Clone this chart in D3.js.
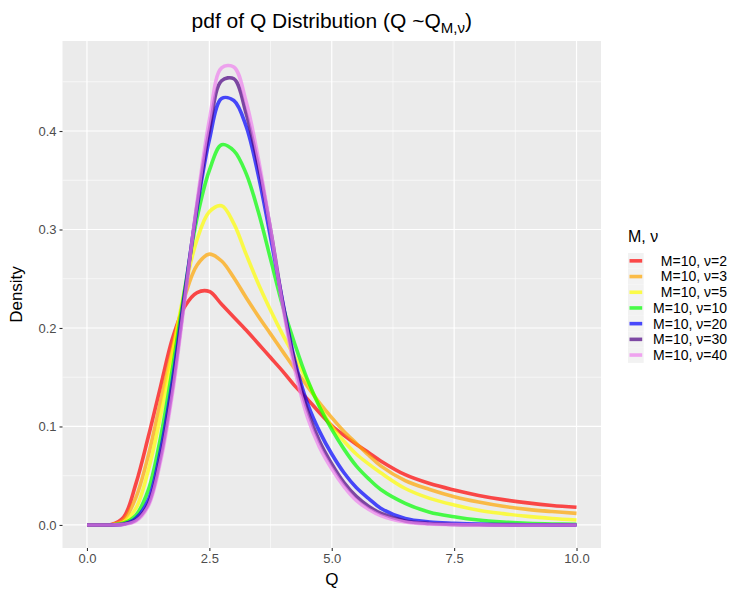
<!DOCTYPE html>
<html>
<head>
<meta charset="utf-8">
<script src="https://cdn.jsdelivr.net/npm/d3@7"></script>
<style>
  body { margin: 0; background: #fff; }
  text { font-family: "Liberation Sans", Arial, sans-serif; }
</style>
</head>
<body>
<div class="chart"></div>
<script>
var svgWidth = 730;
var svgHeight = 589;

// panel box (pixels)
var margin = { top: 41, right: 129, bottom: 41, left: 62.5 };
var width = svgWidth - margin.left - margin.right;
var height = svgHeight - margin.top - margin.bottom;

// data
var qValues = [0, 0.25, 0.5, 0.75, 1, 1.25, 1.5, 1.75, 2, 2.25, 2.5, 2.75, 3, 3.25, 3.5, 3.75,
  4, 4.25, 4.5, 4.75, 5, 5.25, 5.5, 5.75, 6, 6.5, 7, 7.5, 8, 8.5, 9, 9.5, 10];

var seriesNames = ["M=10, \u03bd=2", "M=10, \u03bd=3", "M=10, \u03bd=5", "M=10, \u03bd=10",
  "M=10, \u03bd=20", "M=10, \u03bd=30", "M=10, \u03bd=40"];
var seriesColors = ["#ff0000", "#ffa500", "#ffff00", "#00ff00", "#0000ff", "#4b0082", "#ee82ee"];

var dens2 = [0, 0, 0.0005, 0.008, 0.042, 0.089, 0.14, 0.19, 0.222, 0.236, 0.237, 0.224, 0.211, 0.198, 0.184, 0.17,
  0.156, 0.141, 0.128, 0.114, 0.101, 0.091, 0.082, 0.0735, 0.065, 0.051, 0.042, 0.0355, 0.030, 0.0257, 0.0224, 0.0198, 0.018];
var dens3 = [0, 0, 0.0003, 0.005, 0.028, 0.07, 0.125, 0.18, 0.232, 0.264, 0.275, 0.268, 0.251, 0.231, 0.212, 0.194,
  0.176, 0.158, 0.141, 0.124, 0.109, 0.095, 0.083, 0.071, 0.06, 0.045, 0.036, 0.0287, 0.0233, 0.019, 0.0158, 0.0136, 0.0118];
var dens5 = [0, 0, 0.0002, 0.003, 0.017, 0.055, 0.11, 0.175, 0.24, 0.29, 0.318, 0.324, 0.306, 0.275, 0.245, 0.218,
  0.193, 0.17, 0.146, 0.121, 0.1, 0.085, 0.072, 0.062, 0.053, 0.037, 0.027, 0.0203, 0.015, 0.0115, 0.0087, 0.0066, 0.005];
var dens10 = [0, 0, 0.0001, 0.002, 0.01, 0.035, 0.088, 0.16, 0.24, 0.312, 0.36, 0.386, 0.38, 0.357, 0.318, 0.27,
  0.222, 0.183, 0.148, 0.12, 0.097, 0.077, 0.06, 0.047, 0.036, 0.022, 0.013, 0.0084, 0.005, 0.003, 0.0017, 0.001, 0.0007];
var dens20 = [0, 0, 0, 0.001, 0.007, 0.025, 0.075, 0.148, 0.237, 0.322, 0.391, 0.433, 0.431, 0.405, 0.355, 0.292,
  0.226, 0.166, 0.124, 0.095, 0.072, 0.053, 0.038, 0.027, 0.017, 0.0065, 0.003, 0.0017, 0.0008, 0.0004, 0.0002, 0.0001, 0];
var dens30 = [0, 0, 0, 0.0008, 0.005, 0.021, 0.068, 0.14, 0.233, 0.325, 0.401, 0.451, 0.453, 0.418, 0.365, 0.3,
  0.225, 0.163, 0.117, 0.085, 0.062, 0.043, 0.029, 0.019, 0.012, 0.004, 0.0015, 0.0005, 0.0002, 0.0001, 0, 0, 0];
var dens40 = [0, 0, 0, 0.0006, 0.004, 0.019, 0.064, 0.135, 0.23, 0.328, 0.411, 0.464, 0.465, 0.43, 0.372, 0.3,
  0.222, 0.157, 0.11, 0.079, 0.057, 0.039, 0.025, 0.016, 0.0095, 0.003, 0.001, 0.0003, 0.0001, 0, 0, 0, 0];

var allDens = [dens2, dens3, dens5, dens10, dens20, dens30, dens40];

var xTicks = [0, 2.5, 5, 7.5, 10];
var xMinor = [1.25, 3.75, 6.25, 8.75];
var yTicks = [0, 0.1, 0.2, 0.3, 0.4];
var yMinor = [0.05, 0.15, 0.25, 0.35, 0.45];

var svg = d3.select(".chart")
  .append("svg")
  .attr("width", svgWidth)
  .attr("height", svgHeight);

var chartGroup = svg.append("g")
  .attr("transform", `translate(${margin.left}, ${margin.top})`);

var xScale = d3.scaleLinear().domain([-0.5, 10.5]).range([0, width]);
var yScale = d3.scaleLinear().domain([-0.0234, 0.4914]).range([height, 0]);

// panel background
chartGroup.append("rect")
  .attr("width", width)
  .attr("height", height)
  .attr("fill", "#ebebeb");

// minor grid
chartGroup.selectAll(".xminor").data(xMinor).enter().append("line")
  .attr("x1", d => xScale(d)).attr("x2", d => xScale(d))
  .attr("y1", 0).attr("y2", height)
  .attr("stroke", "#fff").attr("stroke-width", 0.6);
chartGroup.selectAll(".yminor").data(yMinor).enter().append("line")
  .attr("y1", d => yScale(d)).attr("y2", d => yScale(d))
  .attr("x1", 0).attr("x2", width)
  .attr("stroke", "#fff").attr("stroke-width", 0.6);

// major grid
chartGroup.selectAll(".xmajor").data(xTicks).enter().append("line")
  .attr("x1", d => xScale(d)).attr("x2", d => xScale(d))
  .attr("y1", 0).attr("y2", height)
  .attr("stroke", "#fff").attr("stroke-width", 1.2);
chartGroup.selectAll(".ymajor").data(yTicks).enter().append("line")
  .attr("y1", d => yScale(d)).attr("y2", d => yScale(d))
  .attr("x1", 0).attr("x2", width)
  .attr("stroke", "#fff").attr("stroke-width", 1.2);

// axes
var bottomAxis = d3.axisBottom(xScale).tickValues(xTicks)
  .tickFormat(d3.format(".1f")).tickSize(3).tickPadding(3);
var leftAxis = d3.axisLeft(yScale).tickValues(yTicks)
  .tickFormat(d3.format(".1f")).tickSize(3).tickPadding(3);

var xAxis = chartGroup.append("g")
  .attr("transform", `translate(0, ${height})`)
  .call(bottomAxis);
var yAxis = chartGroup.append("g").call(leftAxis);

[xAxis, yAxis].forEach(function(ax) {
  ax.select(".domain").remove();
  ax.selectAll(".tick line").attr("stroke", "#333").attr("stroke-width", 1.1);
  ax.selectAll(".tick text")
    .attr("fill", "#4d4d4d")
    .style("font-size", "13px")
    .style("font-family", "'Liberation Sans', Arial, sans-serif");
});

// curves
var line = d3.line()
  .x(d => xScale(d[0]))
  .y(d => yScale(d[1]))
  .curve(d3.curveCatmullRom);

allDens.forEach(function(dens, i) {
  var pts = qValues.map((q, j) => [q, dens[j]]);
  chartGroup.append("path")
    .datum(pts)
    .attr("d", line)
    .attr("fill", "none")
    .attr("stroke", seriesColors[i])
    .attr("stroke-opacity", 0.7)
    .attr("stroke-width", 3.6);
});

// title
var title = svg.append("text")
  .attr("x", margin.left + width / 2)
  .attr("y", 28)
  .attr("text-anchor", "middle")
  .attr("fill", "#000")
  .style("font-size", "21px");
title.append("tspan").text("pdf of Q Distribution (Q ~Q");
title.append("tspan").attr("dy", 5).style("font-size", "15px").text("M,\u03bd");
title.append("tspan").attr("dy", -5).text(")");

// axis titles
svg.append("text")
  .attr("x", margin.left + width / 2)
  .attr("y", 585)
  .attr("text-anchor", "middle")
  .style("font-size", "17px")
  .text("Q");

svg.append("text")
  .attr("transform", `translate(22, ${margin.top + height / 2}) rotate(-90)`)
  .attr("text-anchor", "middle")
  .style("font-size", "17px")
  .text("Density");

// legend
var legend = svg.append("g");
legend.append("text")
  .attr("x", 628)
  .attr("y", 242)
  .style("font-size", "16px")
  .text("M, \u03bd");

var rowStart = 253;
var rowStep = 15.7;
seriesNames.forEach(function(name, i) {
  var y0 = rowStart + i * rowStep;
  legend.append("rect")
    .attr("x", 628).attr("y", y0)
    .attr("width", 15.7).attr("height", 15.7)
    .attr("fill", "#f2f2f2");
  legend.append("line")
    .attr("x1", 629.5).attr("x2", 642.2)
    .attr("y1", y0 + 7.85).attr("y2", y0 + 7.85)
    .attr("stroke", seriesColors[i])
    .attr("stroke-opacity", 0.7)
    .attr("stroke-width", 3.6);
  legend.append("text")
    .attr("x", 727)
    .attr("y", y0 + 7.85)
    .attr("dy", "0.35em")
    .attr("text-anchor", "end")
    .style("font-size", "14px")
    .text(name);
});
</script>
</body>
</html>
